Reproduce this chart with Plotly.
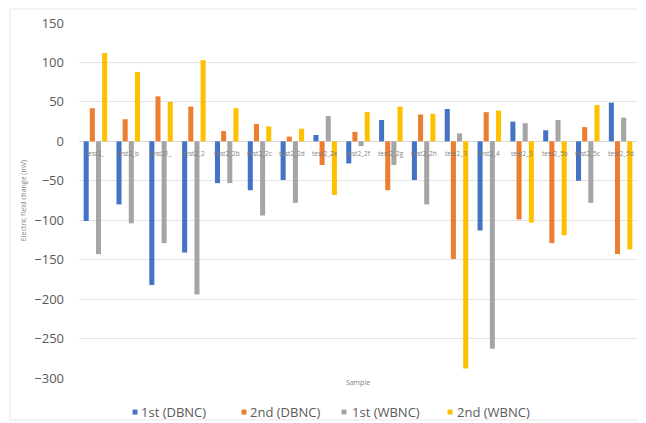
import plotly.graph_objects as go

samples = ["test2_", "test2_b", "test21_", "test2_2", "test2_2b", "test2_2c", "test2_2d",
           "test2_2e", "test2_2f", "test2_2g", "test2_2h", "test2_3", "test2_4", "test2_5",
           "test2_5b", "test2_5c", "test2_5d"]
first_dbnc = [-101, -80, -182, -141, -53, -62, -49, 8, -28, 27, -49, 41, -113, 25, 14, -50, 49]
second_dbnc = [42, 28, 57, 44, 13, 22, 6, -30, 12, -62, 34, -149, 37, -99, -129, 18, -143]
first_wbnc = [-143, -104, -129, -194, -53, -94, -78, 32, -6, -30, -80, 10, -263, 23, 27, -78, 30]
second_wbnc = [112, 88, 50, 103, 42, 19, 16, -68, 37, 44, 35, -288, 39, -103, -119, 46, -137]

series_names = ["1st (DBNC)", "2nd (DBNC)", "1st (WBNC)", "2nd (WBNC)"]
series_values = [first_dbnc, second_dbnc, first_wbnc, second_wbnc]
series_colors = ["#4472C4", "#ED7D31", "#A5A5A5", "#FFC000"]

# legend layout (paper x of each swatch centre / text start)
legend_swatch_x = [0.1004, 0.2957, 0.4749, 0.6649]
legend_text_x = [0.1075, 0.3029, 0.4857, 0.6738]
legend_y = -0.096

fig = go.Figure()
for name, vals, color in zip(series_names, series_values, series_colors):
    fig.add_trace(go.Bar(x=samples, y=vals, name=name, marker_color=color,
                         marker_line_width=0, showlegend=False))

for s in samples:
    fig.add_annotation(x=s, y=0, text=s, showarrow=False, yanchor="top", yshift=-6,
                       font=dict(size=6.5, color="#7f7f7f", family="Open Sans"))

shapes = [dict(type="rect", xref="paper", yref="paper",
               x0=-0.1237, x1=1.0125, y0=-0.1183, y1=1.0394,
               line=dict(color="#E6E6E6", width=1), layer="below")]
for name, color, sx, tx in zip(series_names, series_colors, legend_swatch_x, legend_text_x):
    shapes.append(dict(type="rect", xref="paper", yref="paper",
                       xsizemode="pixel", ysizemode="pixel",
                       xanchor=sx, yanchor=legend_y, x0=-2.5, x1=2.5, y0=-2.5, y1=2.5,
                       fillcolor=color, line=dict(width=0)))
    fig.add_annotation(xref="paper", yref="paper", x=tx, y=legend_y, text=name,
                       showarrow=False, xanchor="left", yanchor="middle",
                       font=dict(size=13, color="#595959", family="Open Sans"))

fig.update_layout(
    width=638, height=415,
    margin=dict(l=71, r=9, t=15, b=45),
    plot_bgcolor="white", paper_bgcolor="white",
    barmode="group", bargap=0.25, bargroupgap=0.18,
    font=dict(family="Open Sans", color="#595959"),
    showlegend=False,
    xaxis=dict(showticklabels=False, showgrid=False, zeroline=False, automargin=False,
               title=dict(text="Sample", font=dict(size=7, color="#7f7f7f"), standoff=2)),
    yaxis=dict(range=[-300, 150], dtick=50, showgrid=True, gridcolor="#E3E3E3",
               zeroline=True, zerolinecolor="#D9D9D9", zerolinewidth=1, automargin=False,
               tickfont=dict(size=13, color="#595959"), ticklabelstandoff=14,
               title=dict(text="Electric field change (mV)", font=dict(size=7, color="#7f7f7f"),
                          standoff=6)),
    shapes=shapes,
)

fig.write_html("out.html")
